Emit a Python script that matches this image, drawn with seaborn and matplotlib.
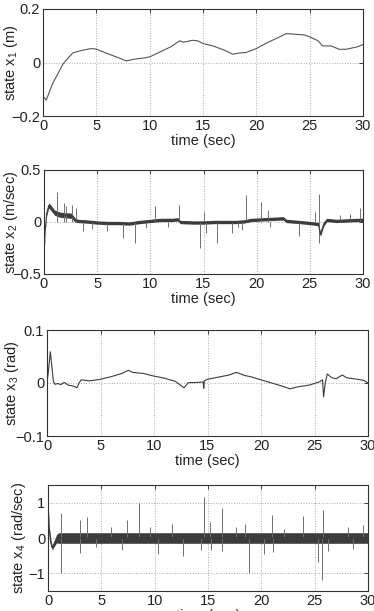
import numpy as np
import matplotlib.pyplot as plt
import seaborn as sns

# state x1 (m): smooth trace
t1 = [0.0, 0.3, 0.9, 1.9, 2.8, 3.5, 4.5, 5.0, 6.0, 7.0, 7.8, 8.5, 9.5, 10.0, 11.0,
      12.0, 12.8, 13.2, 14.0, 14.5, 15.0, 16.0, 17.0, 17.8, 18.5, 19.0, 20.0, 21.0,
      22.0, 22.8, 23.5, 24.5, 25.0, 25.8, 26.2, 27.0, 27.8, 28.5, 29.5, 30.0]
x1 = [-0.125, -0.141, -0.079, -0.004, 0.036, 0.044, 0.052, 0.050, 0.034, 0.019,
      0.006, 0.012, 0.017, 0.021, 0.040, 0.059, 0.081, 0.076, 0.083, 0.081, 0.071,
      0.061, 0.046, 0.031, 0.036, 0.037, 0.052, 0.074, 0.092, 0.108, 0.106, 0.103,
      0.096, 0.081, 0.062, 0.062, 0.049, 0.050, 0.059, 0.067]

# state x2 (m/sec): mean trace, noise band half-width, spikes
t2 = [0.0, 0.1, 0.25, 0.45, 0.7, 1.0, 1.5, 2.0, 2.6, 2.9, 3.2, 4.0, 5.0, 6.0, 7.0,
      8.0, 9.0, 10.0, 11.0, 12.0, 12.6, 12.8, 14.0, 15.0, 16.0, 17.0, 18.0, 18.8,
      19.5, 20.5, 21.5, 22.5, 22.8, 24.0, 25.0, 25.8, 26.0, 26.3, 26.6, 27.5, 28.5,
      29.5, 30.0]
x2 = [-0.33, -0.10, 0.08, 0.16, 0.13, 0.09, 0.07, 0.065, 0.06, 0.02, 0.01, 0.005,
      -0.005, -0.01, -0.01, -0.015, 0.0, 0.01, 0.02, 0.02, 0.025, 0.0, -0.005, -0.005,
      0.0, 0.0, 0.0, 0.005, 0.02, 0.025, 0.03, 0.035, 0.01, 0.0, -0.01, -0.02, -0.12,
      -0.02, 0.02, 0.01, 0.015, 0.02, 0.02]
x2_half = [0.005, 0.01, 0.02, 0.025, 0.025, 0.025, 0.025, 0.025, 0.025, 0.02, 0.016,
           0.016, 0.016, 0.016, 0.016, 0.016, 0.016, 0.016, 0.016, 0.016, 0.016, 0.016,
           0.016, 0.016, 0.016, 0.016, 0.016, 0.016, 0.016, 0.016, 0.016, 0.016, 0.016,
           0.016, 0.016, 0.016, 0.02, 0.02, 0.016, 0.016, 0.016, 0.016, 0.016]
s2_t = [1.25, 1.9, 2.1, 2.66, 3.0, 3.7, 4.5, 5.9, 7.46, 8.56, 9.6, 10.4, 11.7, 12.73,
        14.67, 15.0, 15.2, 16.3, 17.65, 18.25, 18.6, 18.97, 20.4, 21.1, 21.3, 24.0,
        25.5, 25.87, 25.9, 27.85, 28.8, 29.7]
s2_v = [0.29, 0.18, 0.15, 0.16, 0.13, -0.09, -0.07, -0.09, -0.15, -0.20, -0.06, 0.15,
        -0.05, 0.16, -0.25, 0.10, -0.11, -0.20, -0.11, -0.05, -0.08, 0.26, 0.19, 0.12,
        -0.05, -0.13, 0.10, 0.27, -0.20, 0.07, 0.08, 0.13]

# state x3 (rad)
t3 = [0.0, 0.12, 0.31, 0.6, 0.75, 1.0, 1.3, 1.6, 2.0, 2.5, 2.8, 3.0, 3.2, 4.0, 5.0,
      6.0, 7.0, 7.6, 8.0, 9.0, 10.0, 11.0, 12.0, 12.8, 13.2, 14.0, 14.6, 14.65, 14.7,
      15.0, 16.0, 17.0, 17.7, 18.5, 19.0, 20.0, 21.0, 22.0, 22.7, 23.5, 24.5, 25.5,
      25.75, 25.85, 26.0, 26.2, 26.6, 27.0, 27.6, 28.0, 29.0, 29.6, 30.0]
x3 = [0.0, 0.02, 0.059, 0.0025, -0.0025, -0.001, -0.003, 0.001, -0.004, -0.006,
      -0.009, 0.0, 0.006, 0.004, 0.007, 0.012, 0.018, 0.024, 0.02, 0.018, 0.013, 0.009,
      0.003, -0.009, 0.0006, 0.001, 0.002, -0.01, 0.004, 0.007, 0.011, 0.015, 0.02,
      0.014, 0.012, 0.006, 0.0, -0.006, -0.011, -0.007, -0.004, 0.0025, 0.006, -0.026,
      0.0, 0.017, 0.01, 0.008, 0.015, 0.01, 0.007, 0.005, 0.0]

# state x4 (rad/sec)
t4 = [0.0, 0.1, 0.25, 0.4, 0.6, 0.8, 1.0, 5.0, 10.0, 15.0, 20.0, 25.0, 30.0]
x4 = [1.0, 0.3, -0.1, -0.28, -0.15, -0.02, 0.0, 0.0, 0.0, 0.0, 0.0, 0.0, 0.0]
x4_half = [0.02, 0.05, 0.06, 0.06, 0.08, 0.12, 0.15, 0.15, 0.15, 0.15, 0.15, 0.15, 0.15]
s4_t = [1.25, 1.25, 2.97, 3.0, 3.69, 4.47, 5.87, 6.9, 7.44, 8.53, 9.56, 10.34, 11.65,
        12.7, 14.3, 14.63, 15.2, 15.25, 16.28, 16.33, 17.6, 18.5, 18.86, 20.27, 20.96,
        21.1, 22.15, 23.93, 25.34, 25.7, 25.8, 26.27, 28.16, 28.6, 29.55]
s4_v = [0.72, -1.0, 0.51, -0.43, 0.6, -0.25, 0.3, -0.33, 0.51, 1.0, 0.3, -0.45, 0.4,
        -0.5, -0.33, 1.15, 0.46, -0.34, 0.84, -0.38, 0.3, 0.4, -0.98, -0.45, 0.65,
        -0.4, 0.25, 0.61, -0.67, -1.19, 0.8, -0.37, 0.3, -0.3, 0.36]

sns.set_style("white")
plt.rcParams['font.family'] = ['Liberation Sans', 'DejaVu Sans']
plt.rcParams['mathtext.fontset'] = 'custom'
plt.rcParams['mathtext.rm'] = 'Liberation Sans'

line_c = '#3c3c3c'
spike_c = '#707070'

fig = plt.figure(figsize=(3.74, 6.11), dpi=100)
W, H = 374, 611


def make_ax(left, right, top, bottom):
    return fig.add_axes([left / W, 1 - bottom / H, (right - left) / W, (bottom - top) / H])


ax1 = make_ax(43, 363, 9, 116)
ax2 = make_ax(44, 363, 170, 274)
ax3 = make_ax(47, 368, 330, 436)
ax4 = make_ax(48, 368, 485, 591)

# panel 1
sns.lineplot(x=t1, y=x1, ax=ax1, color='#555555', lw=0.8)

# panel 2
b2 = np.array(x2)
h2 = np.array(x2_half)
ax2.vlines(s2_t, 0, s2_v, color=spike_c, lw=0.7)
ax2.fill_between(t2, b2 - h2, b2 + h2, color=line_c, lw=0)
sns.lineplot(x=t2, y=x2, ax=ax2, color=line_c, lw=0.8)

# panel 3
sns.lineplot(x=t3, y=x3, ax=ax3, color=line_c, lw=0.8)

# panel 4
b4 = np.array(x4)
h4 = np.array(x4_half)
ax4.vlines(s4_t, 0, s4_v, color=spike_c, lw=0.7)
ax4.fill_between(t4, b4 - h4, b4 + h4, color=line_c, lw=0)
sns.lineplot(x=t4, y=x4, ax=ax4, color=line_c, lw=1.0)

specs = [
    (ax1, (-0.2, 0.2), [-0.2, 0, 0.2], ['\u22120.2', '0', '0.2'], 'state x$_1$ (m)', -0.072),
    (ax2, (-0.5, 0.5), [-0.5, 0, 0.5], ['\u22120.5', '0', '0.5'], 'state x$_2$ (m/sec)', -0.075),
    (ax3, (-0.1, 0.1), [-0.1, 0, 0.1], ['\u22120.1', '0', '0.1'], 'state x$_3$ (rad)', -0.082),
    (ax4, (-1.5, 1.5), [-1, 0, 1], ['\u22121', '0', '1'], 'state x$_4$ (rad/sec)', -0.064),
]

for ax, ylim, yt, ytl, ylab, lx in specs:
    ax.set_xlim(0, 30)
    ax.set_ylim(*ylim)
    ax.set_xticks([0, 5, 10, 15, 20, 25, 30])
    ax.set_xticklabels(['0', '5', '10', '15', '20', '25', '30'])
    ax.set_yticks(yt)
    ax.set_yticklabels(ytl)
    ax.grid(True, linestyle=':', color='#aaaaaa', lw=0.7)
    ax.tick_params(direction='in', length=3, width=0.6, top=True, right=True,
                   labelsize=10.5, pad=2, colors='#222222')
    for sp in ax.spines.values():
        sp.set_color('#333333')
        sp.set_linewidth(0.8)
    ax.set_xlabel('time (sec)', fontsize=10.5, labelpad=1, color='#222222')
    ax.set_ylabel(ylab, fontsize=10.5, color='#222222')
    ax.yaxis.set_label_coords(lx, 0.5)

fig.savefig('out.png', dpi=100)
